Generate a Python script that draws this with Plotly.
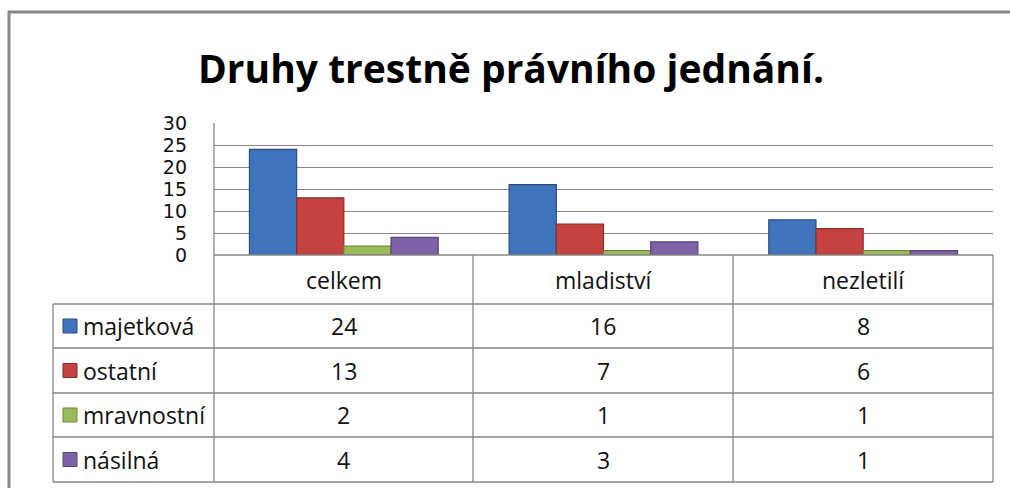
import plotly.graph_objects as go

# ---------------- data ----------------
categories = ["celkem", "mladiství", "nezletilí"]
series_names = ["majetková", "ostatní", "mravnostní", "násilná"]
majetkova = [24, 16, 8]
ostatni = [13, 7, 6]
mravnostni = [2, 1, 1]
nasilna = [4, 3, 1]
series_values = [majetkova, ostatni, mravnostni, nasilna]
y_ticks = [0, 5, 10, 15, 20, 25, 30]
title_text = "Druhy trestně právního jednání."

# ---------------- styling / layout ----------------
W, H = 1010, 488
colors = ["#3F73BC", "#C4423F", "#9BBB59", "#7E62A6"]
edge_colors = ["#2A4E80", "#8A2C2A", "#6E8A38", "#58447A"]
GRID = "#878787"
TFONT = "Open Sans"

PLOT_L, PLOT_R, PLOT_T, PLOT_B = 214, 993, 123, 255
LEG_L = 53
ROW_Y = [255, 304, 348, 393, 437, 482]
COL_X = [214, 473, 733, 993]


def px(x):
    return x / W


def py(y):
    return 1 - y / H


fig = go.Figure()
for name, vals, c, ec in zip(series_names, series_values, colors, edge_colors):
    fig.add_trace(go.Bar(
        x=categories, y=vals, name=name,
        marker=dict(color=c, line=dict(color=ec, width=1.2)),
        showlegend=False,
    ))

shapes = []
line_style = dict(color=GRID, width=1.3)
frame_style = dict(color="#878787", width=3)
# outer frame (top and left visible)
shapes.append(dict(type="line", xref="paper", yref="paper",
                   x0=px(8), x1=1.0, y0=py(12), y1=py(12), line=frame_style))
shapes.append(dict(type="line", xref="paper", yref="paper",
                   x0=px(9), x1=px(9), y0=py(11), y1=0.0, line=frame_style))
# vertical axis line through table
shapes.append(dict(type="line", xref="paper", yref="paper",
                   x0=px(PLOT_L), x1=px(PLOT_L), y0=py(PLOT_T), y1=py(ROW_Y[-1]),
                   line=line_style))
# table horizontal lines
for i, yy in enumerate(ROW_Y):
    x0 = PLOT_L if i == 0 else LEG_L
    shapes.append(dict(type="line", xref="paper", yref="paper",
                       x0=px(x0), x1=px(COL_X[-1]), y0=py(yy), y1=py(yy),
                       line=line_style))
# table vertical lines
for xx in COL_X[1:]:
    shapes.append(dict(type="line", xref="paper", yref="paper",
                       x0=px(xx), x1=px(xx), y0=py(ROW_Y[0]), y1=py(ROW_Y[-1]),
                       line=line_style))
shapes.append(dict(type="line", xref="paper", yref="paper",
                   x0=px(LEG_L), x1=px(LEG_L), y0=py(ROW_Y[1]), y1=py(ROW_Y[-1]),
                   line=line_style))

annotations = []
# title
annotations.append(dict(text=f"<b>{title_text}</b>", xref="paper", yref="paper",
                        x=px(511), y=py(67), showarrow=False,
                        font=dict(family=TFONT, size=39, color="#000000"),
                        xanchor="center", yanchor="middle"))
TBL_FONT = dict(family=TFONT, size=23, color="#111111")
# header row
for j, cat in enumerate(categories):
    cx = (COL_X[j] + COL_X[j + 1]) / 2
    cy = (ROW_Y[0] + ROW_Y[1]) / 2
    annotations.append(dict(text=cat, xref="paper", yref="paper", x=px(cx), y=py(cy),
                            showarrow=False, xanchor="center", yanchor="middle",
                            font=TBL_FONT))
# data rows
for i, (name, vals, c, ec) in enumerate(zip(series_names, series_values, colors, edge_colors)):
    y0, y1 = ROW_Y[i + 1], ROW_Y[i + 2]
    cy = (y0 + y1) / 2
    shapes.append(dict(type="rect", xref="paper", yref="paper",
                       x0=px(63), x1=px(77), y0=py(cy - 7), y1=py(cy + 7),
                       fillcolor=c, line=dict(color=ec, width=1)))
    annotations.append(dict(text=name, xref="paper", yref="paper", x=px(81), y=py(cy),
                            showarrow=False, xanchor="left", yanchor="middle",
                            font=TBL_FONT))
    for j, v in enumerate(vals):
        cx = (COL_X[j] + COL_X[j + 1]) / 2
        annotations.append(dict(text=str(v), xref="paper", yref="paper", x=px(cx), y=py(cy),
                                showarrow=False, xanchor="center", yanchor="middle",
                                font=TBL_FONT))

fig.update_layout(
    width=W, height=H,
    margin=dict(l=0, r=0, t=0, b=0, pad=0, autoexpand=False),
    paper_bgcolor="white", plot_bgcolor="white",
    barmode="group", bargap=0.273, bargroupgap=0,
    xaxis=dict(domain=[px(PLOT_L), px(PLOT_R)], showticklabels=False,
               showgrid=False, zeroline=False, showline=False, fixedrange=True,
               automargin=False),
    yaxis=dict(domain=[py(PLOT_B), py(PLOT_T)], range=[0, 30],
               tickvals=y_ticks, ticktext=[str(t) for t in y_ticks],
               showgrid=True, gridcolor=GRID, gridwidth=1.3,
               zeroline=False, showline=False, ticks="",
               ticklabelstandoff=26, automargin=False,
               tickfont=dict(family="DejaVu Sans", size=19, color="#111111")),
    shapes=shapes,
    annotations=annotations,
)

fig.write_html(
    "out.html",
    config={"displayModeBar": False},
    post_script="document.body.style.margin='0';document.body.style.overflow='hidden';",
)
